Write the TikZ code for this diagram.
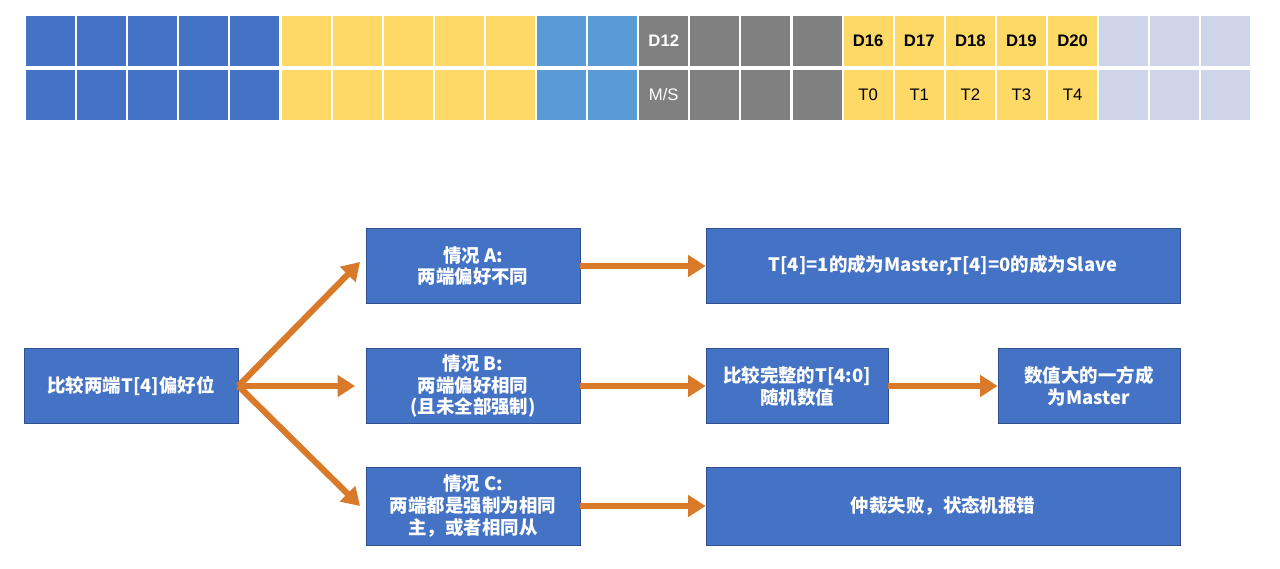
\documentclass[tikz,border=0pt]{standalone}
\usepackage{fontspec}
\setmainfont{Liberation Sans}
\newfontfamily\cjk{Noto Sans CJK SC}
\usetikzlibrary{positioning,arrows.meta}
\definecolor{boxblue}{HTML}{4472C4}
\definecolor{darkblue}{HTML}{2F528F}
\definecolor{cellyellow}{HTML}{FFD966}
\definecolor{lightblue}{HTML}{5B9BD5}
\definecolor{cellgray}{HTML}{808080}
\definecolor{lavender}{HTML}{CED4EA}
\definecolor{arrorange}{HTML}{D97A2B}

\begin{document}
\begin{tikzpicture}[x=0.02cm,y=-0.02cm,>={Triangle[length=10pt,width=12pt]}]
\tikzset{
block/.style    = {draw=darkblue, fill=boxblue, text=white, font=\cjk\fontsize{10.5}{12.5}\selectfont\bfseries, align=center, minimum height=75*0.02cm, inner sep=1pt},
cell/.style     = {draw=white, line width=1.2pt, minimum width=51.1*0.02cm, minimum height=52*0.02cm, font=\fontsize{9.5}{11}\selectfont},
link/.style     = {->, draw=arrorange, line width=3.5pt},
}
    \useasboundingbox (0,0) rectangle (1280,568);

    % Top register
    \foreach \i/\c in {0/boxblue,1/boxblue,2/boxblue,3/boxblue,4/boxblue,
                       5/cellyellow,6/cellyellow,7/cellyellow,8/cellyellow,9/cellyellow,
                       10/lightblue,11/lightblue,12/cellgray,13/cellgray,14/cellgray,15/cellgray,
                       16/cellyellow,17/cellyellow,18/cellyellow,19/cellyellow,20/cellyellow,
                       21/lavender,22/lavender,23/lavender} {
        \node [cell, fill=\c] (top\i) at (25+25.55+\i*51.1, 41) {};
        \node [cell, fill=\c] (bot\i) at (25+25.55+\i*51.1, 95) {};
    }
    \node [text=white, font=\fontsize{9.5}{11}\selectfont\bfseries] at (top12) {D12};
    \node [text=white, font=\fontsize{9.5}{11}\selectfont] at (bot12) {M/S};
    \foreach \i/\d/\t in {16/D16/T0,17/D17/T1,18/D18/T2,19/D19/T3,20/D20/T4} {
        \node [font=\fontsize{9.5}{11}\selectfont\bfseries] at (top\i) {\d};
        \node [font=\fontsize{9.5}{11}\selectfont] at (bot\i) {\t};
    }

    % Main nodes
    \node [block, minimum width=214*0.02cm] (compare) at (131,386) {比较两端T[4]偏好位};
    \node [block, minimum width=214*0.02cm] (caseA)   at (473,266) {情况 A:\\两端偏好不同};
    \node [block, minimum width=214*0.02cm] (caseB)   at (473,386) {情况 B:\\两端偏好相同\\(且未全部强制)};
    \node [block, minimum width=214*0.02cm, minimum height=78*0.02cm] (caseC) at (473,506) {情况 C:\\两端都是强制为相同\\主，或者相同从};
    \node [block, minimum width=474*0.02cm] (resA)    at (943,266) {T[4]=1的成为Master,T[4]=0的成为Slave};
    \node [block, minimum width=182*0.02cm] (fullT)   at (797,386) {比较完整的T[4:0]\\随机数值};
    \node [block, minimum width=182*0.02cm] (resB)    at (1089,386) {数值大的一方成\\为Master};
    \node [block, minimum width=474*0.02cm, minimum height=78*0.02cm] (resC) at (943,506) {仲裁失败，状态机报错};

    % Main edges
    \draw [link]  (compare.east)  --  (360,262);
    \draw [link]  (compare.east)  --  ([xshift=-6pt]caseB.west);
    \draw [link]  (compare.east)  --  (360,506);
    \draw [link]  (caseA)         --  (resA);
    \draw [link]  (caseB)         --  (fullT);
    \draw [link]  (fullT)         --  (resB);
    \draw [link]  (caseC)         --  (resC);

\end{tikzpicture}
\end{document}
